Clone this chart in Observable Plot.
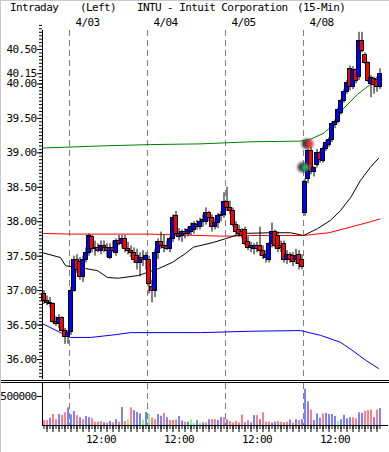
<!DOCTYPE html>
<html><head><meta charset="utf-8">
<script src="https://cdn.jsdelivr.net/npm/d3@7"></script>
<script src="https://cdn.jsdelivr.net/npm/@observablehq/plot@0.6"></script>
<style>
html,body{margin:0;padding:0;background:#fff;}
#wrap{position:relative;width:389px;height:452px;overflow:hidden;background:#fff;font-family:"DejaVu Sans Mono",monospace;font-size:11px;letter-spacing:-0.6px;color:#000;}
.hd{position:absolute;top:2px;white-space:pre;line-height:12px;}
#price{position:absolute;left:0;top:0;}
#vol{position:absolute;left:0;top:380px;}
#sep{position:absolute;left:0;top:380px;width:389px;height:0;border-top:3px double #000;}
#lb{position:absolute;left:0;top:0;width:1px;height:452px;background:#c8c8c8;}
#tb{position:absolute;left:0;top:0;width:389px;height:1px;background:#c8c8c8;}
</style></head>
<body><div id="wrap">
<div class="hd" style="left:10px">Intraday</div>
<div class="hd" style="left:80px">(Left)</div>
<div class="hd" style="left:137px">INTU - Intuit Corporation</div>
<div class="hd" style="left:297px">(15-Min)</div>
<div id="price"></div><div id="vol"></div><div id="sep"></div><div id="lb"></div><div id="tb"></div>
</div>
<script>
// ---- data ----
const open  = [36.95,36.85,36.82,36.80,36.55,36.52,36.60,36.42,36.32,
 36.40,37.00,37.45,37.42,37.20,37.45,37.55,37.78,37.60,37.62,37.58,37.65,37.62,37.48,37.62,37.55,37.72,37.68,37.75,37.60,37.58,37.55,37.50,37.40,37.48,37.45,
 37.45,37.05,37.00,37.55,37.70,37.65,37.65,37.60,37.75,38.08,37.82,37.80,37.85,37.82,37.85,37.88,37.95,37.92,38.00,38.00,38.12,38.05,37.92,37.98,38.08,38.10,
 38.28,38.20,38.15,37.95,37.88,37.85,37.88,37.70,37.62,37.60,37.65,37.65,37.58,37.48,37.45,37.68,37.85,37.80,37.65,37.68,37.45,37.52,37.50,37.45,37.52,37.45,
 38.12,38.62,39.02,38.72,38.82,39.00,38.88,39.05,39.12,39.18,39.40,39.45,39.58,39.75,39.88,40.22,39.95,40.20,40.10,40.62,40.42,40.30,40.00,40.07,40.06,39.95];
const high  = [37.00,36.92,36.90,36.82,36.62,36.65,36.62,36.45,36.42,
 37.05,37.50,37.52,37.48,37.50,37.62,37.82,37.80,37.72,37.68,37.72,37.72,37.68,37.68,37.72,37.75,37.80,37.80,37.80,37.70,37.65,37.62,37.60,37.55,37.58,37.55,
 37.50,37.15,37.60,37.75,37.85,37.80,37.72,37.78,38.10,38.15,37.90,37.88,37.90,37.92,37.98,38.00,38.02,38.05,38.10,38.20,38.15,38.10,38.05,38.12,38.15,38.42,
 38.50,38.30,38.20,38.00,37.95,37.90,37.92,37.78,37.70,37.68,37.70,37.92,37.65,37.58,37.70,37.98,37.88,37.85,37.72,37.72,37.58,37.55,37.55,37.60,37.58,37.52,
 38.62,39.05,39.08,38.80,39.05,39.02,39.10,39.18,39.22,39.45,39.48,39.65,39.78,39.92,40.05,40.26,40.25,40.22,40.75,40.75,40.45,40.32,40.12,40.10,40.10,40.22];
const low   = [36.80,36.78,36.75,36.52,36.48,36.45,36.40,36.22,36.22,
 36.35,36.98,37.25,37.15,37.12,37.40,37.50,37.55,37.50,37.55,37.52,37.55,37.48,37.45,37.55,37.50,37.65,37.62,37.55,37.52,37.48,37.40,37.30,37.20,37.35,37.30,
 36.95,36.82,36.90,37.45,37.60,37.55,37.58,37.55,37.70,37.78,37.72,37.70,37.75,37.78,37.80,37.82,37.88,37.88,37.92,37.95,38.00,37.85,37.88,37.90,38.00,38.05,
 38.15,38.10,37.92,37.80,37.78,37.75,37.65,37.58,37.55,37.52,37.55,37.50,37.45,37.40,37.40,37.62,37.62,37.55,37.55,37.40,37.38,37.40,37.35,37.38,37.30,37.30,
 38.08,38.55,38.68,38.65,38.78,38.85,38.85,39.02,39.08,39.15,39.35,39.42,39.55,39.72,39.85,39.90,39.92,40.00,40.05,40.45,40.28,40.02,39.80,39.85,39.88,39.92];
const close = [36.85,36.82,36.80,36.55,36.52,36.60,36.42,36.32,36.38,
 37.00,37.45,37.30,37.20,37.45,37.55,37.80,37.60,37.62,37.58,37.65,37.62,37.58,37.62,37.58,37.72,37.68,37.75,37.60,37.58,37.55,37.45,37.40,37.48,37.45,37.50,
 37.10,37.00,37.55,37.70,37.65,37.62,37.60,37.75,38.05,37.82,37.78,37.85,37.82,37.88,37.92,37.96,37.92,38.00,38.02,38.12,38.05,37.92,37.98,38.08,38.10,38.28,
 38.20,38.15,37.95,37.85,37.82,37.80,37.68,37.62,37.65,37.65,37.60,37.58,37.50,37.52,37.68,37.85,37.65,37.60,37.62,37.45,37.52,37.45,37.42,37.50,37.38,37.35,
 38.58,39.02,38.72,38.78,39.00,38.90,39.05,39.15,39.18,39.42,39.45,39.62,39.75,39.88,40.02,39.95,40.20,40.05,40.62,40.48,40.30,40.05,40.08,39.98,39.95,40.15];

// volume (thousands) and bar colour codes (r = down, b = up, g = unchanged)
const volume = [85,85,125,190,100,190,175,220,305,180,240,170,135,100,155,135,120,57,57,68,45,40,68,45,100,57,310,68,100,305,255,225,200,95,225,200,130,100,190,160,210,135,85,85,95,155,80,57,57,95,40,85,40,45,45,100,100,100,85,135,135,100,68,45,68,45,180,45,85,45,170,170,100,220,57,57,40,57,68,57,45,57,95,45,100,85,100,625,410,265,85,200,125,200,210,190,190,155,68,100,175,115,135,135,115,220,210,245,255,265,135,265,290];
const volDir = "rrbrrbrrbbbrbrbbrrrrbrbrbrbrgrbbbgbgrrbbrbrrrbbrbggbgbrbrrbbrbrrrrrbrbbrbrrrbbrrbrbrbrbbbrbbbrbbbbgbbbbrrbbrrrbrb";

// moving-average style lines: [bar index, price]
const greenIdx = [-0.5,19,35.5,52,69,85.5,89,93,95.5,100,104.5,109,112];
const greenVal = [39.07,39.10,39.12,39.13,39.16,39.17,39.20,39.28,39.37,39.65,39.85,40.00,40.08];
const redIdx   = [-0.5,9,35,60,70,86.5,95,102,108,112];
const redVal   = [37.83,37.82,37.82,37.79,37.80,37.80,37.84,37.92,37.99,38.04];
const blackIdx = [-0.5,5.5,7.2,13.8,17.8,21.2,24.8,31.5,38.2,42.8,47.2,49.8,56.5,63.2,66.5,75.5,82.2,86.5,91.2,95.5,98.8,102.2,105.5,108.8,111.5];
const blackVal = [37.55,37.48,37.36,37.32,37.29,37.19,37.18,37.22,37.32,37.41,37.54,37.63,37.70,37.79,37.83,37.84,37.84,37.80,37.90,38.02,38.16,38.35,38.60,38.79,38.92];
const blueIdx  = [-0.5,5.5,8.8,15.5,23.8,28.8,52.2,68.8,85.5,92.2,98.8,102.2,107.2,111.5];
const blueVal  = [36.52,36.39,36.32,36.32,36.36,36.39,36.39,36.41,36.42,36.35,36.25,36.15,35.99,35.87];

// signal markers
const markIdx = [87.2, 88.6];
const markVal = [38.79, 39.13];
const markCol = ["#22bb66", "#ff3333"];

// axis labels
const dayStart = [9, 35, 61, 87];
const dayLabels = ["4/03", "4/04", "4/05", "4/08"];
const yTicks = [36.00, 36.50, 37.00, 37.50, 38.00, 38.50, 39.00, 39.50, 40.00, 40.15, 40.50];
const noonIdx = [19, 45, 71, 97];
const noonLabels = ["12:00", "12:00", "12:00", "12:00"];
const volTicks = [500000];

// ---- build ----
const colMap = {r: "#ff0000", b: "#0000ff", g: "#00ff00"};
const bars = open.map((o, i) => ({i, o, h: high[i], l: low[i], c: close[i]}));
const vols = volume.map((v, i) => ({i, v: v * 1000, col: colMap[volDir[i]]}));
const pts = (I, V) => I.map((x, k) => ({i: x, v: V[k]}));
const marks = markIdx.map((x, k) => ({i: x, v: markVal[k], col: markCol[k]}));
const minor = d3.range(35.75, 40.86, 0.05).map(v => Math.round(v * 100) / 100);
const allIdx = d3.range(0, 113);
const longIdx = allIdx.filter(i => i % 2 === 1);

const font = {fontFamily: "DejaVu Sans Mono, monospace", fontSize: "11px", letterSpacing: "-0.6px", background: "transparent", color: "#000", overflow: "visible"};
const xs = {type: "linear", domain: [0, 112], range: [43.5, 379.5], axis: null};

const price = Plot.plot({
  width: 389, height: 380,
  marginLeft: 42, marginRight: 1, marginTop: 30, marginBottom: 2,
  x: xs,
  y: {type: "linear", domain: [36, 40.5], range: [359, 49], axis: null},
  color: {type: "identity"},
  style: font,
  marks: [
    Plot.ruleX(dayStart, {x: d => d - 0.5, stroke: "#808080", strokeDasharray: "6,4"}),
    Plot.line(pts(greenIdx, greenVal), {x: "i", y: "v", stroke: "#008000", strokeWidth: 1}),
    Plot.line(pts(redIdx, redVal), {x: "i", y: "v", stroke: "#ff0000", strokeWidth: 1}),
    Plot.line(pts(blueIdx, blueVal), {x: "i", y: "v", stroke: "#0000ff", strokeWidth: 1}),
    Plot.line(pts(blackIdx, blackVal), {x: "i", y: "v", stroke: "#000000", strokeWidth: 1}),
    Plot.ruleX(bars, {x: "i", y1: "l", y2: "h", stroke: "#000", strokeWidth: 1}),
    Plot.rect(bars, {x1: d => d.i - 0.7, x2: d => d.i + 0.7, y1: "o", y2: "c",
      fill: d => d.c >= d.o ? "#0000ff" : "#ff0000", stroke: "#000", strokeWidth: 1, shapeRendering: "crispEdges"}),
    Plot.dot(marks, {x: "i", y: "v", r: 5, fill: "#333", dx: -3}),
    Plot.dot(marks, {x: "i", y: "v", r: 3.5, fill: "col"}),
    Plot.frame({anchor: "left", stroke: "#000"}),
    Plot.axisY(minor, {anchor: "left", tickSize: 3, tickFormat: () => "", label: null}),
    Plot.axisY(yTicks, {anchor: "left", tickSize: 5, tickPadding: 1, tickFormat: d3.format(".2f"), fill: "#000", label: null}),
    Plot.text(dayLabels, {x: (d, k) => dayStart[k] - 0.5, frameAnchor: "top", text: d => d, textAnchor: "start", lineAnchor: "bottom", dx: 6, dy: -5, fill: "#000"})
  ]
});

const vol = Plot.plot({
  width: 389, height: 72,
  marginLeft: 42, marginRight: 1, marginTop: 3, marginBottom: 27,
  x: xs,
  y: {type: "linear", domain: [0, 500000], range: [45, 16], axis: null},
  color: {type: "identity"},
  style: font,
  marks: [
    Plot.ruleX(dayStart, {x: d => d - 0.5, stroke: "#808080", strokeDasharray: "6,4"}),
    Plot.ruleX(vols, {x: "i", y1: 0, y2: "v", stroke: "col", strokeWidth: 1}),
    Plot.ruleY([0], {stroke: "#000"}),
    Plot.frame({anchor: "left", stroke: "#000"}),
    Plot.axisY(volTicks, {anchor: "left", tickSize: 5, tickPadding: 1, tickFormat: d => String(d), fill: "#000", label: null}),
    Plot.axisX(allIdx, {tickSize: 4, tickFormat: () => "", label: null}),
    Plot.axisX(longIdx, {tickSize: 7, tickFormat: () => "", label: null}),
    Plot.text(noonIdx, {x: d => d, frameAnchor: "bottom", text: (d, k) => noonLabels[k], dy: 17, fill: "#000"})
  ]
});

document.getElementById("price").appendChild(price);
document.getElementById("vol").appendChild(vol);

// soft glow on signal markers
const ns = "http://www.w3.org/2000/svg";
const defs = document.createElementNS(ns, "defs");
defs.innerHTML = '<filter id="soft" x="-2" y="-2" width="5" height="5"><feGaussianBlur stdDeviation="1.6"/></filter>';
price.insertBefore(defs, price.firstChild);
price.querySelectorAll('g[aria-label="dot"]').forEach(g => g.setAttribute("filter", "url(#soft)"));
</script>
</body></html>
